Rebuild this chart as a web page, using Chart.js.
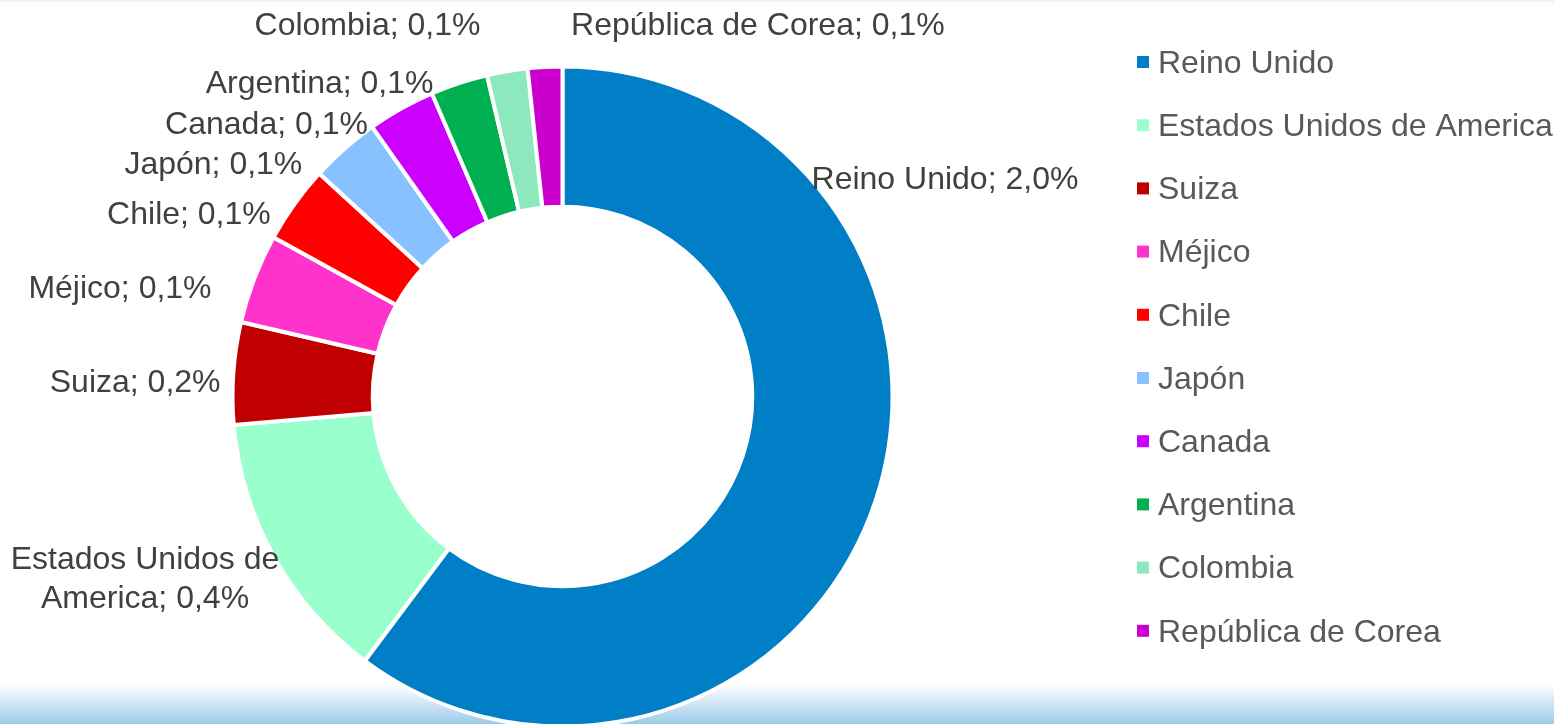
<!DOCTYPE html>
<html lang="es">
<head>
  <meta charset="UTF-8">
  <title>Participación por país</title>
  <style>
    html,body{margin:0;padding:0;overflow:hidden}
    body{width:1554px;height:724px;background:linear-gradient(to bottom,#ececec 0,#ffffff 3px,#ffffff 684px,#9ccbe9 724px)}
    #wrap{position:relative;width:1554px;height:724px}
  </style>
  <script src="https://cdn.jsdelivr.net/npm/chart.js"></script>
</head>
<body>
  <div id="wrap"><canvas id="donut"></canvas></div>
  <script>
    const countries = ['Reino Unido','Estados Unidos de America','Suiza','Méjico','Chile','Japón','Canada','Argentina','Colombia','República de Corea'];
    const shares    = [2.0, 0.445, 0.166, 0.146, 0.126, 0.113, 0.110, 0.093, 0.066, 0.056];
    const colors    = ['#007fc6','#99ffcc','#c00000','#ff33cc','#ff0000','#88c1ff','#cc00ff','#00b050','#8ee8be','#cc00cc'];

    // label placement, in units of the outer radius, measured from the ring centre
    const labelSpots = [
      {dx: 1.159, dy:-0.656},
      {dx:-1.265, dy: 0.554, wrap:true},
      {dx:-1.295, dy:-0.041},
      {dx:-1.341, dy:-0.326},
      {dx:-1.132, dy:-0.550},
      {dx:-1.058, dy:-0.702},
      {dx:-0.897, dy:-0.823},
      {dx:-0.736, dy:-0.947},
      {dx:-0.591, dy:-1.123},
      {dx: 0.592, dy:-1.123}
    ];

    const FONT = '32px "Liberation Sans", Arial, sans-serif';
    const pct = v => v.toFixed(1).replace('.', ',') + '%';

    const sliceLabels = {
      id:'sliceLabels',
      afterDatasetsDraw(chart){
        const ctx = chart.ctx;
        const arcs = chart.getDatasetMeta(0).data;
        ctx.save();
        ctx.font = FONT;
        ctx.fillStyle = '#404040';
        ctx.textAlign = 'center';
        ctx.textBaseline = 'middle';
        arcs.forEach((arc,i) => {
          const {x, y, outerRadius} = arc.getProps(['x','y','outerRadius'], true);
          const s = labelSpots[i];
          const cx = x + s.dx * outerRadius, cy = y + s.dy * outerRadius;
          if (s.wrap) {
            const words = countries[i].split(' ');
            const last = words.pop();
            ctx.fillText(words.join(' '), cx, cy - 19.5);
            ctx.fillText(last + '; ' + pct(shares[i]), cx, cy + 19.5);
          } else {
            ctx.fillText(countries[i] + '; ' + pct(shares[i]), cx, cy);
          }
        });
        ctx.restore();
      }
    };

    const sideLegend = {
      id:'sideLegend',
      afterDraw(chart){
        const ctx = chart.ctx;
        ctx.save();
        ctx.font = FONT;
        ctx.textBaseline = 'middle';
        countries.forEach((c,i) => {
          const y = 62 + i * 63.2;
          ctx.fillStyle = colors[i];
          ctx.fillRect(1137, y - 6, 12, 12);
          ctx.fillStyle = '#595959';
          ctx.fillText(c, 1158, y + 2);
        });
        ctx.restore();
      }
    };

    new Chart(document.getElementById('donut'), {
      type:'doughnut',
      data:{
        labels: countries,
        datasets:[{
          data: shares,
          backgroundColor: colors,
          borderColor:'#ffffff',
          borderWidth:4
        }]
      },
      options:{
        responsive:true,
        maintainAspectRatio:false,
        animation:false,
        radius:330,
        cutout:'57.5%',
        layout:{ padding:{ left:0, right:429, top:69, bottom:0 } },
        plugins:{
          legend:{ display:false },
          tooltip:{ enabled:false }
        }
      },
      plugins:[sliceLabels, sideLegend]
    });
  </script>
</body>
</html>
